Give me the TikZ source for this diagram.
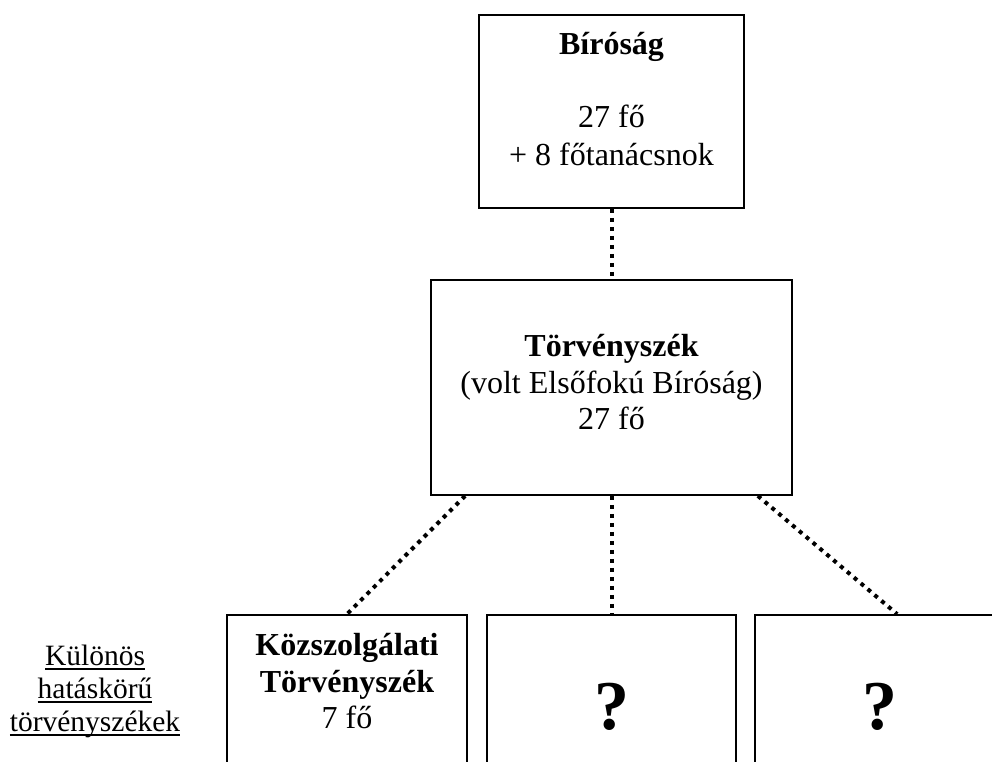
\documentclass[tikz,border=0pt]{standalone}
\usepackage{fontspec}
\setmainfont{Liberation Serif}
\usetikzlibrary{calc}
\newcommand\myul[1]{\setbox0\hbox{#1}\rlap{\rule[-5pt]{\wd0}{1.8pt}}\box0}
\tikzset{
  box/.style={draw=black, line width=1.8pt, rectangle, inner sep=0pt},
  txt/.style={anchor=base, inner sep=0pt, font=\fontsize{32}{36}\selectfont},
  btxt/.style={anchor=base, inner sep=0pt, font=\fontsize{32}{36}\selectfont\bfseries},
  qtxt/.style={anchor=base, inner sep=0pt, font=\fontsize{70}{74}\selectfont\bfseries},
  ltxt/.style={anchor=base, inner sep=0pt, font=\fontsize{29.5}{33}\selectfont},
  dotline/.style={line width=4pt, dash pattern=on 4pt off 5pt}
}
\begin{document}
\begin{tikzpicture}[x=1pt,y=-1pt]
\useasboundingbox (0,0) rectangle (992,762);
\clip (0,0) rectangle (992,762);
\fill[white] (0,0) rectangle (992,762);
% boxes
\node[box, minimum width=265pt, minimum height=193pt] (top) at (611.5,111.5) {};
\node[box, minimum width=361pt, minimum height=215pt] (mid) at (611.5,387.5) {};
\node[box, minimum width=240pt, minimum height=200pt] (b1) at (347,715) {};
\node[box, minimum width=249pt, minimum height=200pt] (b2) at (611.5,715) {};
\node[box, minimum width=249pt, minimum height=200pt] (b3) at (879.5,715) {};
% texts
\node[btxt] (t1) at (611.5,55) {Bíróság};
\node[txt] (t2) at (611.5,128) {27 fő};
\node[txt] (t3) at (611.5,165) {+ 8 főtanácsnok};
\node[btxt] (m1) at (611.5,356) {Törvényszék};
\node[txt] (m2) at (611.5,393) {(volt Elsőfokú Bíróság)};
\node[txt] (m3) at (611.5,429) {27 fő};
\node[btxt] (k1) at (347,655) {Közszolgálati};
\node[btxt] (k2) at (347,692) {Törvényszék};
\node[txt] (k3) at (347,728) {7 fő};
\node[qtxt] (q2) at (612,729) {?};
\node[qtxt] (q3) at (879.5,729) {?};
\node[ltxt] (l1) at (95,665) {\myul{Különös}};
\node[ltxt] (l2) at (95,698) {\myul{hatáskörű}};
\node[ltxt] (l3) at (95,731) {\myul{törvényszékek}};
% connectors
\coordinate (mL) at ($(mid.south west)+(35,0)$);
\coordinate (mR) at ($(mid.south east)+(-35,0)$);
\coordinate (b3c) at ($(b3.north west)+(143,0)$);
\draw[dotline] (top.south) -- (mid.north);
\draw[dotline] (mL) -- (b1.north);
\draw[dotline] (mid.south) -- (b2.north);
\draw[dotline] (mR) -- (b3c);
\end{tikzpicture}
\end{document}
